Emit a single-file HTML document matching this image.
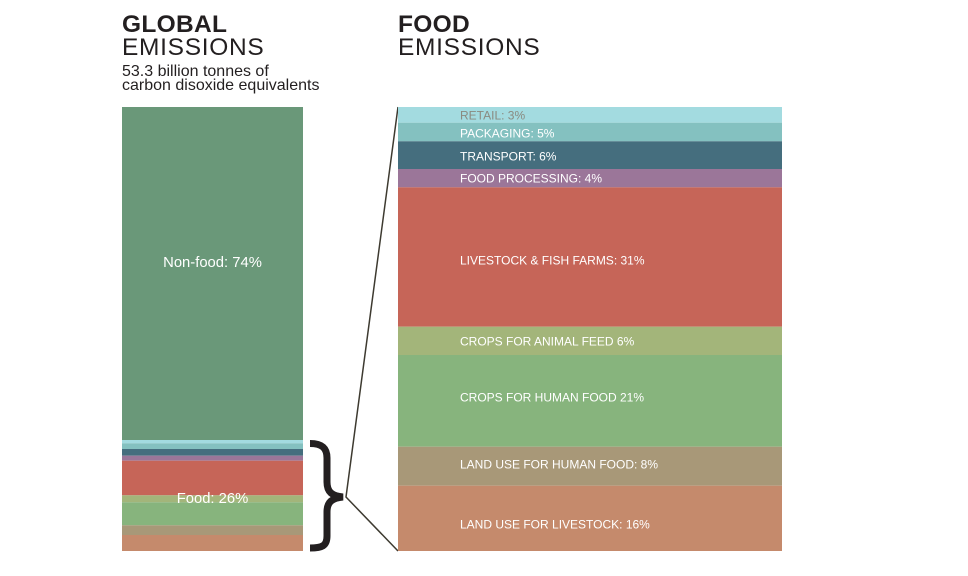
<!DOCTYPE html>
<html><head><meta charset="utf-8"><style>
html,body{margin:0;padding:0;background:#fff;}
svg{display:block;}
text{font-family:"Liberation Sans",sans-serif;}
</style></head><body>
<svg width="968" height="576" viewBox="0 0 968 576" xmlns="http://www.w3.org/2000/svg">
<rect width="968" height="576" fill="#fff"/>
<!-- Titles -->
<text x="122" y="32" font-size="24.5" font-weight="bold" fill="#231f20" letter-spacing="0.3">GLOBAL</text>
<text x="122" y="55" font-size="24.5" fill="#231f20" letter-spacing="0.7">EMISSIONS</text>
<text x="122" y="76" font-size="16" fill="#231f20">53.3 billion tonnes of</text>
<text x="122" y="90" font-size="16" fill="#231f20">carbon disoxide equivalents</text>
<text x="398" y="32" font-size="24.5" font-weight="bold" fill="#231f20" letter-spacing="0.3">FOOD</text>
<text x="398" y="55" font-size="24.5" fill="#231f20" letter-spacing="0.7">EMISSIONS</text>

<!-- Left bar -->
<rect x="122" y="107" width="181" height="333" fill="#6a9879"/>
<rect x="122" y="440" width="181" height="3.3" fill="#a3dbe0"/>
<rect x="122" y="443.3" width="181" height="5.7" fill="#84c1c0"/>
<rect x="122" y="449" width="181" height="6.7" fill="#456e7e"/>
<rect x="122" y="455.7" width="181" height="5" fill="#9b7699"/>
<rect x="122" y="460.7" width="181" height="34.6" fill="#c66558"/>
<rect x="122" y="495.3" width="181" height="7" fill="#a3b57a"/>
<rect x="122" y="502.3" width="181" height="23" fill="#87b47d"/>
<rect x="122" y="525.3" width="181" height="9.7" fill="#a89878"/>
<rect x="122" y="535" width="181" height="16" fill="#c58a6c"/>
<text x="212.5" y="267" font-size="14.8" fill="#fff" text-anchor="middle">Non-food: 74%</text>
<text x="212.5" y="503" font-size="14.8" fill="#fff" text-anchor="middle">Food: 26%</text>

<!-- Brace -->
<path d="M310,443.5 C322,443.5 327,448 327,458 L327,482 C327,492 332,496 343,497 C332,498 327,502 327,512 L327,536 C327,546 322,548 310,548" fill="none" stroke="#231f20" stroke-width="7"/>

<!-- Connector lines -->
<path d="M398,107 L346,497 L398,551" fill="none" stroke="#3d3a30" stroke-width="1.5"/>

<!-- Right bar -->
<rect x="398" y="107" width="384" height="15.7" fill="#a3dbe0"/>
<rect x="398" y="122.7" width="384" height="18.6" fill="#84c1c0"/>
<rect x="398" y="141.3" width="384" height="27.7" fill="#456e7e"/>
<rect x="398" y="169" width="384" height="18.3" fill="#9b7699"/>
<rect x="398" y="187.3" width="384" height="139.4" fill="#c66558"/>
<rect x="398" y="326.7" width="384" height="28.3" fill="#a3b57a"/>
<rect x="398" y="355" width="384" height="91.7" fill="#87b47d"/>
<rect x="398" y="446.7" width="384" height="39" fill="#a89878"/>
<rect x="398" y="485.7" width="384" height="65.3" fill="#c58a6c"/>

<g font-size="12" fill="#fff">
<text x="460" y="119.5" fill="#8a8a80">RETAIL: 3%</text>
<text x="460" y="137.5">PACKAGING: 5%</text>
<text x="460" y="160.5">TRANSPORT: 6%</text>
<text x="460" y="182.5">FOOD PROCESSING: 4%</text>
<text x="460" y="264.5">LIVESTOCK &amp; FISH FARMS: 31%</text>
<text x="460" y="345.5">CROPS FOR ANIMAL FEED 6%</text>
<text x="460" y="401.5">CROPS FOR HUMAN FOOD 21%</text>
<text x="460" y="468.5">LAND USE FOR HUMAN FOOD: 8%</text>
<text x="460" y="528.5">LAND USE FOR LIVESTOCK: 16%</text>
</g>
</svg>
</body></html>
